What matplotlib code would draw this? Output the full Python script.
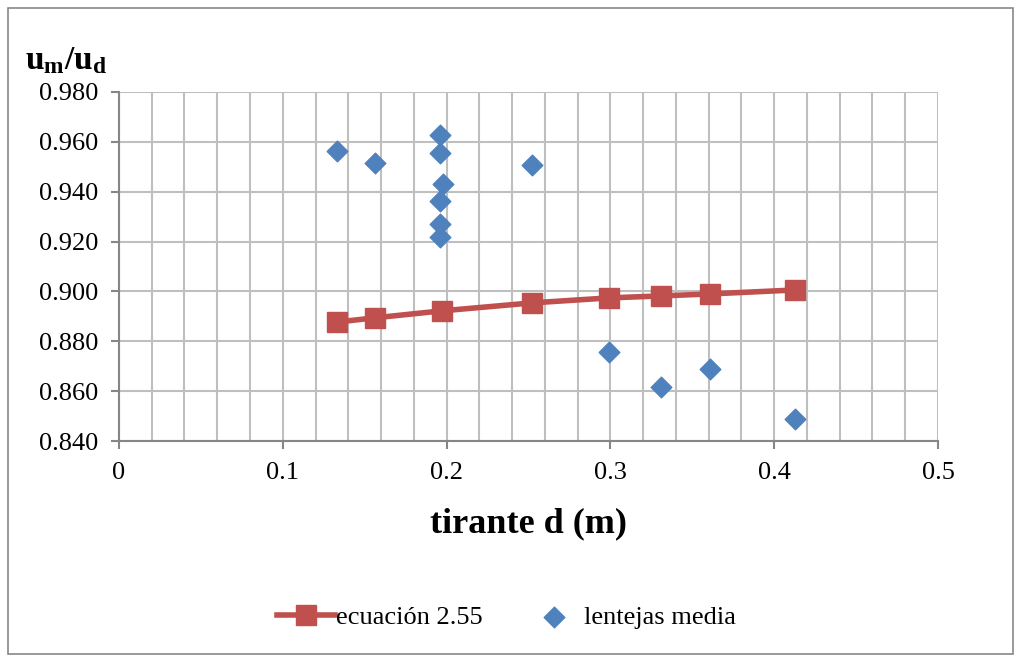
import matplotlib

matplotlib.use("Agg")

import matplotlib.pyplot as plt
from matplotlib.ticker import MultipleLocator
from matplotlib.patches import Rectangle

plt.rcParams["font.family"] = ["Liberation Serif", "DejaVu Serif"]
plt.rcParams["mathtext.fontset"] = "custom"
plt.rcParams["mathtext.rm"] = "Liberation Serif"
plt.rcParams["mathtext.bf"] = "Liberation Serif:bold"

# ecuación 2.55
eq_d = [0.133, 0.156, 0.197, 0.252, 0.299, 0.331, 0.361, 0.413]
eq_ratio = [0.8877, 0.8894, 0.8922, 0.8954, 0.8974, 0.8982, 0.8990, 0.9006]

# lentejas media
len_d = [0.133, 0.156, 0.196, 0.196, 0.198, 0.196, 0.196, 0.196, 0.252, 0.299, 0.331, 0.361, 0.413]
len_ratio = [0.9563, 0.9515, 0.9628, 0.9555, 0.9431, 0.9363, 0.9271, 0.9219, 0.9507,
             0.8757, 0.8617, 0.8689, 0.8489]

RED = "#C0504D"
BLUE = "#4F81BD"
GRID = "#BFBFBF"
AXIS = "#868686"

fig = plt.figure(figsize=(10.16, 6.56), dpi=100)
fig.patches.append(Rectangle((0.008, 0.003), 0.989, 0.985, transform=fig.transFigure,
                             fill=False, edgecolor="#888888", linewidth=1.2))
ax = fig.add_axes([0.1171, 0.3277, 0.8061, 0.5321])

ax.plot(eq_d, eq_ratio, color=RED, linewidth=4, marker="s", markersize=14,
        label="ecuación 2.55", zorder=3)
ax.scatter(len_d, len_ratio, color=BLUE, marker="D", s=110, label="lentejas media", zorder=4)

ax.set_xlim(0, 0.5)
ax.set_ylim(0.84, 0.98)
ax.xaxis.set_major_locator(MultipleLocator(0.1))
ax.xaxis.set_minor_locator(MultipleLocator(0.02))
ax.yaxis.set_major_locator(MultipleLocator(0.02))
ax.xaxis.set_major_formatter(plt.FuncFormatter(lambda v, p: f"{v:g}"))
ax.yaxis.set_major_formatter(plt.FuncFormatter(lambda v, p: f"{v:.3f}"))

ax.grid(True, which="major", color=GRID, linewidth=1.5)
ax.grid(True, which="minor", axis="x", color=GRID, linewidth=1.5)
ax.set_axisbelow(True)

for side in ["top", "right"]:
    ax.spines[side].set_visible(False)
for side in ["left", "bottom"]:
    ax.spines[side].set_color(AXIS)
    ax.spines[side].set_linewidth(1.5)
ax.tick_params(which="major", direction="out", length=6, color=AXIS, width=1.5,
               labelsize=19, pad=9)
ax.tick_params(which="minor", length=0)

ax.set_xlabel("tirante d (m)", fontsize=26, fontweight="bold", labelpad=17)
fig.text(0.025, 0.895, r"$\mathbf{u_m/u_d}$", fontsize=24)

ax.legend(loc="center", bbox_to_anchor=(0.473, -0.505), ncol=2, frameon=False,
          fontsize=19, handlelength=2.2, handletextpad=0.05, columnspacing=1.6)

fig.savefig("out.png", dpi=100)
